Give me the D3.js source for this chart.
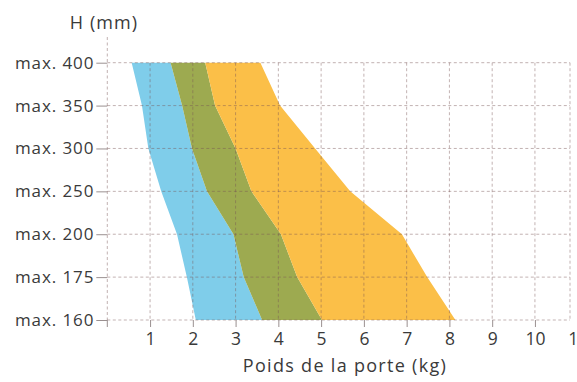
<!DOCTYPE html>
<html>
<head>
<meta charset="utf-8">
<script src="https://cdn.jsdelivr.net/npm/d3@7"></script>
<style>
  html, body { margin: 0; padding: 0; background: #fff; }
  svg { display: block; }
  text { font-family: "Open Sans", Lato, sans-serif; fill: #3a3a3a; }
</style>
</head>
<body>
<svg id="chart" width="577" height="382"></svg>
<script>
// ---- data ----
const levels = ["max. 400", "max. 350", "max. 300", "max. 250", "max. 200", "max. 175", "max. 160"];
const blueMin   = [0.57, 0.81, 0.96, 1.26, 1.63, 1.86, 2.07];
const blueMax   = [1.48, 1.75, 1.98, 2.33, 2.95, 3.19, 3.62];
const greenMax  = [2.29, 2.52, 3.00, 3.37, 4.06, 4.44, 5.02];
const orangeMax = [3.58, 4.04, 4.86, 5.68, 6.89, 7.48, 8.14];
const xTicks = [1, 2, 3, 4, 5, 6, 7, 8, 9, 10, 11];
const xTitle = "Poids de la porte (kg)";
const yTitle = "H (mm)";

// ---- layout ----
const svg = d3.select("#chart");
const plotLeft = 107.3, plotTop = 62.7, plotBottom = 320, gridRight = 570;
const x = d3.scaleLinear().domain([0, 11]).range([plotLeft, 577.7]);
const y = d3.scalePoint().domain(levels).range([plotTop, plotBottom]);
const fontFam = "'Open Sans', Lato, sans-serif";
const textColor = "#3a3a3a";

const rows = levels.map((l, i) => ({ l, b0: blueMin[i], b1: blueMax[i], g1: greenMax[i], o1: orangeMax[i] }));

const band = (k0, k1) => d3.area()
  .y(d => y(d.l))
  .x0(d => x(d[k0]))
  .x1(d => x(d[k1]));

svg.append("path").datum(rows).attr("d", band("b0", "b1")).attr("fill", "#7fcdea");
svg.append("path").datum(rows).attr("d", band("b1", "g1")).attr("fill", "#9daa50");
svg.append("path").datum(rows).attr("d", band("g1", "o1")).attr("fill", "#fbbf48");

// ---- grid ----
const gridColor = "rgba(120,85,85,0.45)";
const grid = svg.append("g").attr("stroke", gridColor).attr("stroke-width", 1).attr("stroke-dasharray", "3,2.5").attr("fill", "none");
levels.forEach(l => {
  grid.append("line").attr("x1", plotLeft).attr("x2", gridRight).attr("y1", y(l)).attr("y2", y(l));
});
xTicks.filter(t => x(t) < gridRight - 2).forEach(t => {
  grid.append("line").attr("x1", x(t)).attr("x2", x(t)).attr("y1", plotTop).attr("y2", plotBottom);
});
grid.append("line").attr("x1", gridRight).attr("x2", gridRight).attr("y1", plotTop).attr("y2", plotBottom);
grid.append("line").attr("x1", plotLeft).attr("x2", plotLeft).attr("y1", 37).attr("y2", plotBottom);

// ---- axes ----
const yAxis = svg.append("g").attr("transform", `translate(${plotLeft},0)`)
  .call(d3.axisLeft(y).tickSize(11).tickPadding(2));
yAxis.select(".domain").remove();
yAxis.selectAll(".tick line").attr("stroke", "#9a9090");
yAxis.selectAll(".tick text").attr("font-size", 17).attr("fill", textColor)
  .attr("font-family", fontFam).attr("letter-spacing", 0.9);

const xAxis = svg.append("g").attr("transform", `translate(0,${plotBottom})`)
  .call(d3.axisBottom(x).tickValues(xTicks).tickSize(7).tickPadding(6));
xAxis.select(".domain").remove();
xAxis.selectAll(".tick line").attr("stroke", "#9a9090");
xAxis.selectAll(".tick text").attr("font-size", 17.5).attr("fill", textColor)
  .attr("font-family", fontFam);

svg.append("line").attr("x1", plotLeft).attr("x2", plotLeft).attr("y1", plotBottom).attr("y2", plotBottom + 7).attr("stroke", "#9a9090");

// ---- titles ----
svg.append("text").attr("x", 104).attr("y", 29).attr("text-anchor", "middle")
  .attr("font-size", 18).attr("font-family", fontFam).attr("fill", textColor).attr("letter-spacing", 1.1).text(yTitle);
svg.append("text").attr("x", 345).attr("y", 372).attr("text-anchor", "middle")
  .attr("font-size", 18).attr("font-family", fontFam).attr("fill", textColor).attr("letter-spacing", 1.3).text(xTitle);
</script>
</body>
</html>
